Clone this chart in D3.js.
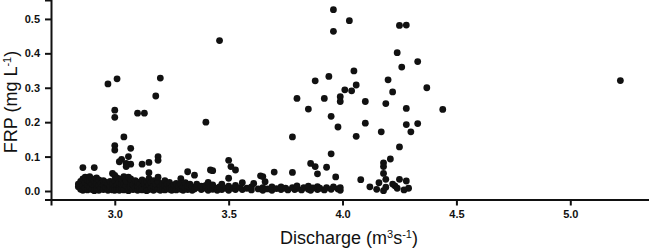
<!DOCTYPE html>
<html>
<head>
<meta charset="utf-8">
<script src="https://cdn.jsdelivr.net/npm/d3@7"></script>
<style>
  body { margin: 0; background: #fff; }
  svg { display: block; }
  .axis text { font-family: "Liberation Sans", Arial, sans-serif; font-size: 11px; font-weight: bold; fill: #111; }
  .axis path, .axis line { stroke: #111; stroke-width: 2px; }
  .title { font-family: "Liberation Sans", Arial, sans-serif; font-size: 18px; fill: #111; }
</style>
</head>
<body>
<svg id="chart" width="649" height="250"></svg>
<script>
// x-axis tick labels and y-axis tick labels
var xTicks = [3.0, 3.5, 4.0, 4.5, 5.0];
var yTicks = [0.0, 0.1, 0.2, 0.3, 0.4, 0.5];

// discharge (m3 s-1) and FRP (mg L-1), upper scattered points
var upperQ = [3.46, 2.97, 3.01, 3.20, 3.18, 3.00, 3.00, 3.10, 3.13, 3.40, 3.04, 3.00, 3.07, 3.00, 3.06,
  3.03, 3.02, 3.05, 3.19, 3.19, 2.86, 2.91, 3.50, 3.51, 3.53, 3.43, 3.15, 3.12, 3.07, 3.05, 2.99, 3.32,
  3.15, 3.42, 3.35, 3.29,
  3.96, 4.03, 3.96, 4.25, 4.28, 4.24, 4.33, 4.26, 4.05, 3.94, 3.88, 4.06, 4.20, 4.01, 4.04, 4.22, 4.37,
  3.80, 3.92, 3.99, 3.99, 4.10, 4.19, 3.85, 4.28, 3.95, 3.98, 4.10, 4.28, 4.33, 3.78, 4.06, 4.17, 4.30,
  4.25, 3.95, 4.21, 3.86, 3.88, 3.93, 3.89, 3.78, 3.70, 4.18, 4.18, 4.18, 3.97, 4.08, 4.19, 4.25, 4.28,
  3.65, 3.66, 5.22, 4.44];
var upperFRP = [0.437, 0.311, 0.326, 0.328, 0.276, 0.235, 0.214, 0.226, 0.226, 0.200, 0.157, 0.132, 0.124, 0.119, 0.100,
  0.092, 0.085, 0.080, 0.100, 0.089, 0.068, 0.068, 0.089, 0.071, 0.061, 0.059, 0.083, 0.078, 0.078, 0.071, 0.051, 0.056,
  0.053, 0.061, 0.046, 0.036,
  0.527, 0.495, 0.464, 0.481, 0.482, 0.402, 0.376, 0.360, 0.349, 0.333, 0.320, 0.308, 0.323, 0.294, 0.291, 0.288, 0.300,
  0.269, 0.269, 0.274, 0.260, 0.260, 0.254, 0.238, 0.240, 0.217, 0.186, 0.197, 0.193, 0.196, 0.157, 0.159, 0.172, 0.172,
  0.128, 0.108, 0.093, 0.080, 0.071, 0.069, 0.050, 0.054, 0.055, 0.082, 0.071, 0.051, 0.041, 0.033, 0.034, 0.034, 0.029,
  0.042, 0.027, 0.321, 0.237];

// discharge and FRP, dense low-concentration band
var lowQ = [2.84, 2.84, 2.85, 2.85, 2.86, 2.86, 2.86, 2.87, 2.87, 2.87, 2.88, 2.88, 2.88, 2.89, 2.89, 2.89,
  2.90, 2.90, 2.90, 2.91, 2.91, 2.91, 2.92, 2.92, 2.92, 2.93, 2.93, 2.93, 2.94, 2.94, 2.95, 2.95, 2.95,
  2.96, 2.96, 2.97, 2.97, 2.97, 2.98, 2.98, 2.98, 2.99, 2.99, 3.00, 3.00, 3.00, 3.00, 3.01, 3.01, 3.01,
  3.02, 3.02, 3.02, 3.03, 3.03, 3.03, 3.04, 3.04, 3.04, 3.05, 3.05, 3.06, 3.06, 3.06, 3.07, 3.07, 3.07,
  3.08, 3.08, 3.09, 3.09, 3.10, 3.10, 3.10, 3.11, 3.11, 3.12, 3.12, 3.12, 3.13, 3.13, 3.14, 3.14, 3.14,
  3.15, 3.15, 3.15, 3.16, 3.16, 3.17, 3.17, 3.17, 3.18, 3.18, 3.19, 3.19, 3.19, 3.20, 3.20, 3.21, 3.21,
  3.22, 3.22, 3.22, 3.23, 3.23, 3.24, 3.24, 3.25, 3.25, 3.26, 3.26, 3.27, 3.27, 3.28, 3.28, 3.29, 3.29,
  3.30, 3.30, 3.31, 3.31, 3.32, 3.32, 3.33, 3.33, 3.34, 3.34, 3.35, 3.36, 3.36, 3.38, 3.38, 3.40, 3.40,
  3.41, 3.41, 3.42, 3.43, 3.43, 3.45, 3.45, 3.46, 3.47, 3.47, 3.49, 3.50, 3.50, 3.50, 3.52, 3.53, 3.53,
  3.55, 3.56, 3.56, 3.58, 3.60, 3.60, 3.61, 3.63, 3.64, 3.65, 3.65, 3.67, 3.69, 3.69, 3.71, 3.73, 3.73,
  3.75, 3.76, 3.78, 3.79, 3.80, 3.80, 3.82, 3.83, 3.85, 3.85, 3.86, 3.87, 3.89, 3.89, 3.90, 3.92, 3.93,
  3.95, 3.96, 3.98, 3.99, 3.99, 4.12, 4.15, 4.16, 4.18, 4.19, 4.22, 4.23, 4.24, 4.29, 4.27];
var lowFRP = [0.012, 0.020, 0.005, 0.028, 0.015, 0.035, 0.002, 0.008, 0.025, 0.040, 0.003, 0.018, 0.032, 0.010, 0.028, 0.042,
  0.004, 0.020, 0.035, 0.012, 0.030, 0.001, 0.006, 0.024, 0.038, 0.015, 0.032, 0.002, 0.008, 0.022, 0.004, 0.018, 0.030,
  0.010, 0.026, 0.002, 0.016, 0.022, 0.007, 0.014, 0.028, 0.003, 0.020, 0.010, 0.030, 0.045, 0.002, 0.005, 0.018, 0.038,
  0.012, 0.025, 0.002, 0.008, 0.035, 0.020, 0.003, 0.020, 0.042, 0.015, 0.028, 0.006, 0.040, 0.001, 0.011, 0.024, 0.035,
  0.004, 0.018, 0.009, 0.030, 0.002, 0.015, 0.026, 0.007, 0.020, 0.012, 0.032, 0.003, 0.006, 0.022, 0.010, 0.028, 0.001,
  0.004, 0.018, 0.036, 0.008, 0.025, 0.002, 0.014, 0.030, 0.010, 0.020, 0.005, 0.026, 0.040, 0.012, 0.002, 0.007, 0.022,
  0.003, 0.016, 0.030, 0.010, 0.020, 0.005, 0.025, 0.012, 0.002, 0.008, 0.018, 0.003, 0.022, 0.010, 0.015, 0.005, 0.020,
  0.002, 0.012, 0.008, 0.024, 0.004, 0.015, 0.010, 0.020, 0.002, 0.012, 0.006, 0.010, 0.020, 0.004, 0.014, 0.008, 0.016,
  0.002, 0.025, 0.010, 0.005, 0.018, 0.008, 0.002, 0.012, 0.004, 0.020, 0.008, 0.002, 0.014, 0.037, 0.008, 0.004, 0.016,
  0.010, 0.024, 0.004, 0.008, 0.003, 0.012, 0.022, 0.006, 0.044, 0.010, 0.002, 0.006, 0.012, 0.002, 0.007, 0.004, 0.012,
  0.008, 0.003, 0.010, 0.004, 0.008, 0.015, 0.003, 0.010, 0.005, 0.014, 0.002, 0.009, 0.004, 0.013, 0.008, 0.003, 0.010,
  0.005, 0.012, 0.006, 0.002, 0.010, 0.012, 0.005, 0.024, 0.001, 0.011, 0.020, 0.015, 0.008, 0.008, 0.003];

var svg = d3.select("#chart");

var x = d3.scaleLinear().domain([2.72, 5.35]).range([51, 650]);
var y = d3.scaleLinear().domain([-0.0247, 0.555]).range([199.5, 0]);

var points = [];
upperQ.forEach(function(q, i) { points.push({q: q, frp: upperFRP[i]}); });
lowQ.forEach(function(q, i) { points.push({q: q, frp: lowFRP[i]}); });

// points
svg.append("g")
  .selectAll("circle")
  .data(points)
  .enter().append("circle")
    .attr("cx", function(d) { return x(d.q); })
    .attr("cy", function(d) { return y(d.frp); })
    .attr("r", 3.4)
    .attr("fill", "#111");

// x axis
svg.append("g")
  .attr("class", "axis")
  .attr("transform", "translate(0,199.5)")
  .call(d3.axisBottom(x).tickValues(xTicks).tickFormat(d3.format(".1f")).tickSizeOuter(0).tickSize(6).tickPadding(5));

// y axis
svg.append("g")
  .attr("class", "axis")
  .attr("transform", "translate(51,0)")
  .call(d3.axisLeft(y).tickValues(yTicks).tickFormat(d3.format(".1f")).tickSizeOuter(0).tickSize(6).tickPadding(5));

// axis titles
var xt = svg.append("text").attr("class", "title")
  .attr("x", 349).attr("y", 244).attr("text-anchor", "middle");
xt.append("tspan").text("Discharge (m");
xt.append("tspan").attr("font-size", "11px").attr("dy", -6).text("3");
xt.append("tspan").attr("dy", 6).text("s");
xt.append("tspan").attr("font-size", "11px").attr("dy", -6).text("-1");
xt.append("tspan").attr("dy", 6).text(")");

var yt = svg.append("text").attr("class", "title")
  .attr("transform", "translate(17,102) rotate(-90)")
  .attr("text-anchor", "middle");
yt.append("tspan").text("FRP (mg L");
yt.append("tspan").attr("font-size", "11px").attr("dy", -6).text("-1");
yt.append("tspan").attr("dy", 6).text(")");
</script>
</body>
</html>
